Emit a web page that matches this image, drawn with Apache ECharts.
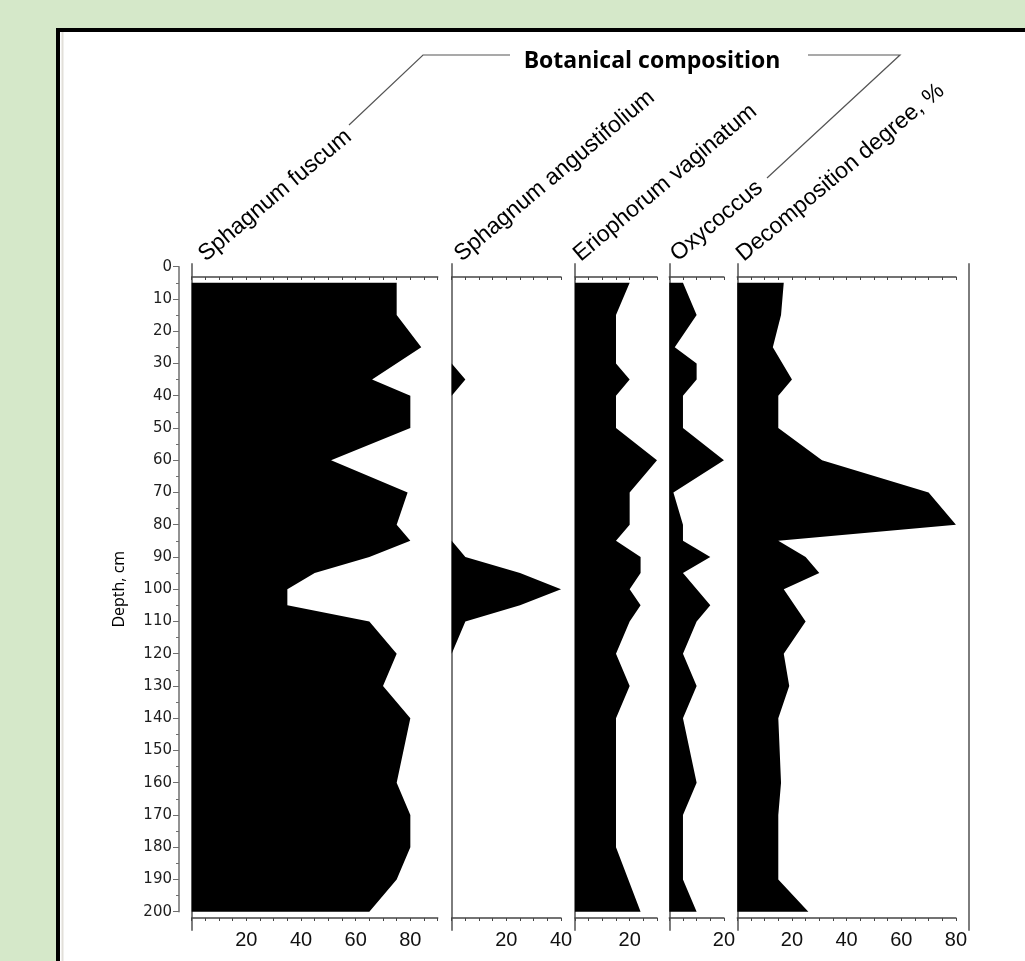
<!DOCTYPE html>
<html>
<head>
<meta charset="utf-8">
<title>Peat core profile</title>
<script src="https://cdn.jsdelivr.net/npm/echarts@6/dist/echarts.min.js"></script>
<style>
  html, body { margin: 0; padding: 0; background: #d5e8c9; }
  #chart { width: 1025px; height: 961px; }
</style>
</head>
<body>
<div id="chart"></div>
<script>
// Panel titles (left to right)
const panelNames = ['Sphagnum fuscum', 'Sphagnum angustifolium', 'Eriophorum vaginatum', 'Oxycoccus', 'Decomposition degree, %'];
const groupTitle = 'Botanical composition';
const depthTitle = 'Depth, cm';

// Horizontal scale extent of each panel (%)
const panelMax = [90, 40, 30, 20, 80];

// Sphagnum fuscum, % by depth (cm)
const fuscumDepth = [5, 15, 25, 35, 40, 50, 60, 70, 80, 85, 90, 95, 100, 105, 110, 120, 130, 140, 160, 170, 180, 190, 200];
const fuscumValue = [75, 75, 84, 66, 80, 80, 51, 79, 75, 80, 65, 45, 35, 35, 65, 75, 70, 80, 75, 80, 80, 75, 65];

// Sphagnum angustifolium, %
const angustDepth = [5, 30, 35, 40, 85, 90, 95, 100, 105, 110, 120, 200];
const angustValue = [0, 0, 5, 0, 0, 5, 25, 40, 25, 5, 0, 0];

// Eriophorum vaginatum, %
const erioDepth = [5, 15, 30, 35, 40, 50, 60, 70, 80, 85, 90, 95, 100, 105, 110, 120, 130, 140, 180, 200];
const erioValue = [20, 15, 15, 20, 15, 15, 30, 20, 20, 15, 24, 24, 20, 24, 20, 15, 20, 15, 15, 24];

// Oxycoccus, %
const oxyDepth = [5, 15, 25, 30, 35, 40, 50, 60, 70, 80, 85, 90, 95, 105, 110, 120, 130, 140, 160, 170, 190, 200];
const oxyValue = [5, 10, 2, 10, 10, 5, 5, 20, 1.5, 5, 5, 15, 5, 15, 10, 5, 10, 5, 10, 5, 5, 10];

// Decomposition degree, %
const decompDepth = [5, 15, 25, 35, 40, 50, 60, 70, 80, 85, 90, 95, 100, 110, 120, 130, 140, 160, 170, 190, 200];
const decompValue = [17, 16, 13, 20, 15, 15, 31, 70, 80, 15, 25, 30, 17, 25, 17, 19, 15, 16, 15, 15, 26];

const panelDepths = [fuscumDepth, angustDepth, erioDepth, oxyDepth, decompDepth];
const panelValues = [fuscumValue, angustValue, erioValue, oxyValue, decompValue];

// ---- layout ----
const pxPerUnit = 2.733;               // horizontal px per percent
const panelLeft = [191.7, 451.7, 575, 669.3, 737.3];
const labelX = [209, 465, 584, 681, 747];
const depthTop = 266.7, depthHeight = 645;   // 0..200 cm
const frameTop = 264, frameHeight = 666;      // vertical frame lines
const pxPerCm = depthHeight / 200;
const frameMin = -(depthTop - frameTop) / pxPerCm;
const frameMax = (frameTop + frameHeight - depthTop) / pxPerCm;
const topAxisY = 277, bottomAxisY = 918;
const labelAngle = 40 * Math.PI / 180;

const axisColor = '#454545';
const frameColor = '#7d7d7d';

const grids = [{ left: 179, top: depthTop, width: 1, height: depthHeight, outerBoundsMode: 'none' }];
const xAxes = [{ gridIndex: 0, type: 'value', show: false }];
const yAxes = [{
  gridIndex: 0, type: 'value', inverse: true, min: 0, max: 200, interval: 10,
  position: 'left',
  axisLine: { show: true, onZero: false, lineStyle: { color: '#6e6e6e', width: 1.5 } },
  axisTick: { show: true, length: 6, lineStyle: { color: '#6e6e6e', width: 1 } },
  minorTick: { show: true, splitNumber: 2, length: 3, lineStyle: { color: '#6e6e6e', width: 1 } },
  axisLabel: { fontFamily: 'DejaVu Sans', fontSize: 15, color: '#1e1e1e', margin: 7 },
  splitLine: { show: false },
  name: depthTitle, nameLocation: 'middle', nameGap: 52, nameRotate: 90,
  nameTextStyle: { fontFamily: 'Open Sans', fontSize: 16, color: '#000' }
}];
const series = [];

panelMax.forEach(function (max, i) {
  const g = i + 1;
  grids.push({ left: panelLeft[i], top: frameTop, width: max * pxPerUnit, height: frameHeight, outerBoundsMode: 'none' });
  // top scale
  xAxes.push({
    gridIndex: g, type: 'value', position: 'top', min: 0, max: max, interval: 5,
    offset: -(topAxisY - frameTop),
    axisLine: { show: true, onZero: false, lineStyle: { color: axisColor, width: 1.5 } },
    axisTick: { show: true, inside: true, length: 3, lineStyle: { color: axisColor, width: 1 } },
    axisLabel: { show: false }, splitLine: { show: false }
  });
  // bottom scale with labels
  const bottomIndex = xAxes.length;
  xAxes.push({
    gridIndex: g, type: 'value', position: 'bottom', min: 0, max: max, interval: 5,
    offset: -(frameTop + frameHeight - bottomAxisY),
    axisLine: { show: true, onZero: false, lineStyle: { color: axisColor, width: 1.5 } },
    axisTick: { show: true, length: 3, lineStyle: { color: axisColor, width: 1 } },
    axisLabel: {
      fontFamily: 'Liberation Sans', fontSize: 20, color: '#111', margin: 12,
      formatter: function (v) { return (v > 0 && v % 20 === 0) ? String(v) : ''; }
    },
    splitLine: { show: false }
  });
  const yIndex = yAxes.length;
  yAxes.push({
    gridIndex: g, type: 'value', inverse: true, min: frameMin, max: frameMax, position: 'left',
    axisLine: { show: true, onZero: false, lineStyle: { color: frameColor, width: 2 } },
    axisTick: { show: false }, axisLabel: { show: false }, splitLine: { show: false }
  });
  if (i === panelMax.length - 1) {
    yAxes.push({
      gridIndex: g, type: 'value', inverse: true, min: frameMin, max: frameMax, position: 'right', offset: 13,
      axisLine: { show: true, onZero: false, lineStyle: { color: frameColor, width: 2 } },
      axisTick: { show: false }, axisLabel: { show: false }, splitLine: { show: false }
    });
  }
  const depths = panelDepths[i];
  const values = panelValues[i];
  series.push({
    type: 'custom',
    name: panelNames[i],
    xAxisIndex: bottomIndex,
    yAxisIndex: yIndex,
    silent: true,
    z: 3,
    data: depths.map(function (d, k) { return [values[k], d]; }),
    encode: { x: 0, y: 1 },
    renderItem: function (params, api) {
      if (params.dataIndex !== 0) return;
      // filled silhouette from the zero line out to each value
      const pts = [api.coord([0, depths[0]])];
      for (let k = 0; k < depths.length; k++) pts.push(api.coord([values[k], depths[k]]));
      pts.push(api.coord([0, depths[depths.length - 1]]));
      return { type: 'polygon', shape: { points: pts }, style: { fill: '#000', stroke: null } };
    }
  });
});

// rotated column headings and the bracket over the botanical group
const graphics = [
  { type: 'rect', z: -10, shape: { x: 58, y: 30, width: 1100, height: 1000 },
    style: { fill: '#fff', stroke: '#000', lineWidth: 4 } },
  { type: 'line', z: -9, shape: { x1: 62.5, y1: 32, x2: 62.5, y2: 961 },
    style: { stroke: '#e2dfd9', lineWidth: 2 } },
  { type: 'text', z: 10, x: 652, y: 61,
    style: { text: groupTitle, font: 'bold 23px "Open Sans"', fill: '#000', align: 'center', verticalAlign: 'middle' } },
  { type: 'polyline', z: 10, shape: { points: [[349, 125], [423, 55], [510, 55]] },
    style: { stroke: '#555', lineWidth: 1.2, fill: null } },
  { type: 'polyline', z: 10, shape: { points: [[808, 55], [900, 55], [767, 178]] },
    style: { stroke: '#555', lineWidth: 1.2, fill: null } }
];
panelNames.forEach(function (name, i) {
  graphics.push({
    type: 'text', z: 10, x: labelX[i], y: 266, rotation: labelAngle,
    style: { text: name, font: '23px "Liberation Sans"', fill: '#000', align: 'left', verticalAlign: 'bottom' }
  });
});

const chart = echarts.init(document.getElementById('chart'), null, { renderer: 'canvas' });
chart.setOption({
  animation: false,
  backgroundColor: '#d5e8c9',
  grid: grids,
  xAxis: xAxes,
  yAxis: yAxes,
  series: series,
  graphic: { elements: graphics }
});
</script>
</body>
</html>
